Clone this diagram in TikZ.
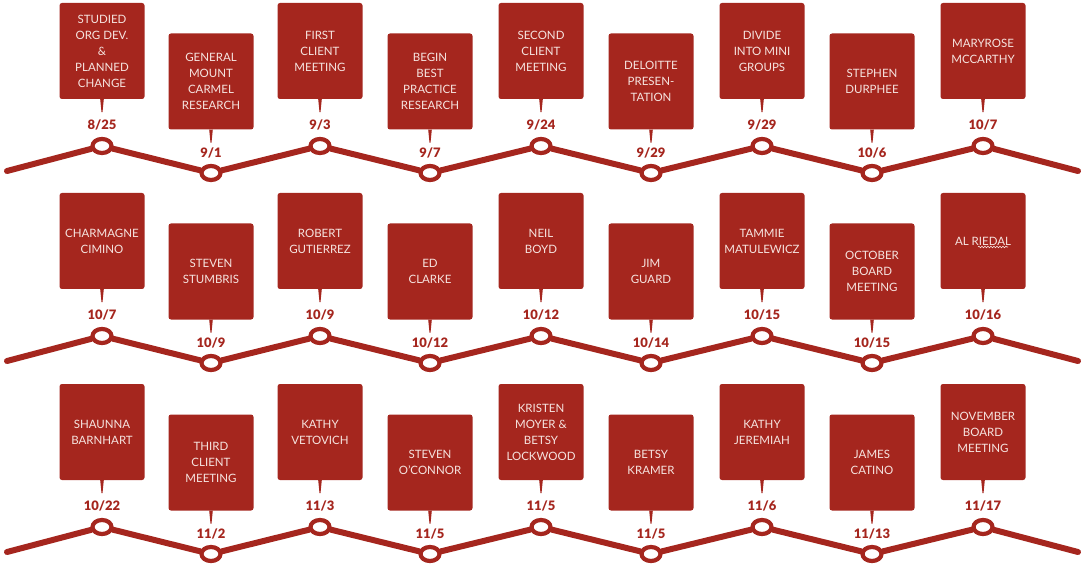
\documentclass[tikz,border=0pt]{standalone}
\usepackage{fontspec}
\setmainfont{Lato}[BoldFont={Lato Black}]
\usepackage{tikz}
\usetikzlibrary{shapes.geometric,decorations.pathmorphing}
\definecolor{tlred}{RGB}{165,38,30}
\definecolor{tltext}{RGB}{246,228,224}
\tikzset{
  evbox/.style={rectangle, fill=tlred, text=tltext, rounded corners=2.5pt,
    minimum width=85pt, minimum height=96pt, inner sep=0pt, align=center,
    font=\fontsize{11.5}{16}\selectfont},
  evdate/.style={text=tlred, font=\fontsize{13}{13}\selectfont\bfseries},
  evdot/.style={ellipse, draw=tlred, fill=white, line width=4.2pt,
    minimum width=19pt, minimum height=14pt, inner sep=0pt},
  evline/.style={draw=tlred, line width=6pt, line cap=round}
}

\begin{document}
\begin{tikzpicture}[x=1pt,y=-1pt]
      \useasboundingbox (0,0) rectangle (1084,569);

      \node[evbox] (ev1) at (102,51) {STUDIED\\ORG DEV.\\\&\\PLANNED\\CHANGE};
      \node[evbox] (ev2) at (211,81.5) {GENERAL\\MOUNT\\CARMEL\\RESEARCH};
      \node[evbox] (ev3) at (320,51) {FIRST\\CLIENT\\MEETING};
      \node[evbox] (ev4) at (430,81.5) {BEGIN\\BEST\\PRACTICE\\RESEARCH};
      \node[evbox] (ev5) at (541,51) {SECOND\\CLIENT\\MEETING};
      \node[evbox] (ev6) at (651,81.5) {DELOITTE\\PRESEN-\\TATION};
      \node[evbox] (ev7) at (762,51) {DIVIDE\\INTO MINI\\GROUPS};
      \node[evbox] (ev8) at (872,81.5) {STEPHEN\\DURPHEE};
      \node[evbox] (ev9) at (983,51) {MARYROSE\\MCCARTHY};

      \node[evdate] (dt1) at (102,125) {8/25};
      \node[evdate] (dt2) at (211,153) {9/1};
      \node[evdate] (dt3) at (320,125) {9/3};
      \node[evdate] (dt4) at (430,153) {9/7};
      \node[evdate] (dt5) at (541,125) {9/24};
      \node[evdate] (dt6) at (651,153) {9/29};
      \node[evdate] (dt7) at (762,125) {9/29};
      \node[evdate] (dt8) at (872,153) {10/6};
      \node[evdate] (dt9) at (983,125) {10/7};

      \node[evdot] (dot1) at (102,146) {};
      \node[evdot] (dot2) at (211,173) {};
      \node[evdot] (dot3) at (320,146) {};
      \node[evdot] (dot4) at (430,173) {};
      \node[evdot] (dot5) at (541,146) {};
      \node[evdot] (dot6) at (651,173) {};
      \node[evdot] (dot7) at (762,146) {};
      \node[evdot] (dot8) at (872,173) {};
      \node[evdot] (dot9) at (983,146) {};
      \coordinate (ln1s) at (7,171);
      \coordinate (ln1e) at (1078,171);
      \draw[evline] (ln1s) -- (dot1) -- (dot2) -- (dot3) -- (dot4) -- (dot5)
        -- (dot6) -- (dot7) -- (dot8) -- (dot9) -- (ln1e);

      \node[evbox] (ev10) at (102,241) {CHARMAGNE\\CIMINO};
      \node[evbox] (ev11) at (211,271.5) {STEVEN\\STUMBRIS};
      \node[evbox] (ev12) at (320,241) {ROBERT\\GUTIERREZ};
      \node[evbox] (ev13) at (430,271.5) {ED\\CLARKE};
      \node[evbox] (ev14) at (541,241) {NEIL\\BOYD};
      \node[evbox] (ev15) at (651,271.5) {JIM\\GUARD};
      \node[evbox] (ev16) at (762,241) {TAMMIE\\MATULEWICZ};
      \node[evbox] (ev17) at (872,271.5) {OCTOBER\\BOARD\\MEETING};
      \node[evbox] (ev18) at (983,241) {AL RIEDAL};
      \draw[tltext, line width=0.6pt, decorate,
        decoration={snake, segment length=3pt, amplitude=0.8pt}]
        ([xshift=-5pt,yshift=-6pt]ev18.center) -- ([xshift=25pt,yshift=-6pt]ev18.center);

      \node[evdate] (dt10) at (102,315) {10/7};
      \node[evdate] (dt11) at (211,343) {10/9};
      \node[evdate] (dt12) at (320,315) {10/9};
      \node[evdate] (dt13) at (430,343) {10/12};
      \node[evdate] (dt14) at (541,315) {10/12};
      \node[evdate] (dt15) at (651,343) {10/14};
      \node[evdate] (dt16) at (762,315) {10/15};
      \node[evdate] (dt17) at (872,343) {10/15};
      \node[evdate] (dt18) at (983,315) {10/16};

      \node[evdot] (dot10) at (102,336) {};
      \node[evdot] (dot11) at (211,363) {};
      \node[evdot] (dot12) at (320,336) {};
      \node[evdot] (dot13) at (430,363) {};
      \node[evdot] (dot14) at (541,336) {};
      \node[evdot] (dot15) at (651,363) {};
      \node[evdot] (dot16) at (762,336) {};
      \node[evdot] (dot17) at (872,363) {};
      \node[evdot] (dot18) at (983,336) {};
      \coordinate (ln2s) at (7,361);
      \coordinate (ln2e) at (1078,361);
      \draw[evline] (ln2s) -- (dot10) -- (dot11) -- (dot12) -- (dot13) -- (dot14)
        -- (dot15) -- (dot16) -- (dot17) -- (dot18) -- (ln2e);

      \node[evbox] (ev19) at (102,432) {SHAUNNA\\BARNHART};
      \node[evbox] (ev20) at (211,462.5) {THIRD\\CLIENT\\MEETING};
      \node[evbox] (ev21) at (320,432) {KATHY\\VETOVICH};
      \node[evbox] (ev22) at (430,462.5) {STEVEN\\O'CONNOR};
      \node[evbox] (ev23) at (541,432) {KRISTEN\\MOYER \&\\BETSY\\LOCKWOOD};
      \node[evbox] (ev24) at (651,462.5) {BETSY\\KRAMER};
      \node[evbox] (ev25) at (762,432) {KATHY\\JEREMIAH};
      \node[evbox] (ev26) at (872,462.5) {JAMES\\CATINO};
      \node[evbox] (ev27) at (983,432) {NOVEMBER\\BOARD\\MEETING};

      \node[evdate] (dt19) at (102,506) {10/22};
      \node[evdate] (dt20) at (211,534) {11/2};
      \node[evdate] (dt21) at (320,506) {11/3};
      \node[evdate] (dt22) at (430,534) {11/5};
      \node[evdate] (dt23) at (541,506) {11/5};
      \node[evdate] (dt24) at (651,534) {11/5};
      \node[evdate] (dt25) at (762,506) {11/6};
      \node[evdate] (dt26) at (872,534) {11/13};
      \node[evdate] (dt27) at (983,506) {11/17};

      \node[evdot] (dot19) at (102,527) {};
      \node[evdot] (dot20) at (211,554) {};
      \node[evdot] (dot21) at (320,527) {};
      \node[evdot] (dot22) at (430,554) {};
      \node[evdot] (dot23) at (541,527) {};
      \node[evdot] (dot24) at (651,554) {};
      \node[evdot] (dot25) at (762,527) {};
      \node[evdot] (dot26) at (872,554) {};
      \node[evdot] (dot27) at (983,527) {};
      \coordinate (ln3s) at (7,552);
      \coordinate (ln3e) at (1078,552);
      \draw[evline] (ln3s) -- (dot19) -- (dot20) -- (dot21) -- (dot22) -- (dot23)
        -- (dot24) -- (dot25) -- (dot26) -- (dot27) -- (ln3e);

      \foreach \n in {1,...,27}
        \fill[tlred] ([xshift=-1.8pt]ev\n.south) -- ([xshift=1.8pt]ev\n.south)
          -- ([xshift=0.5pt,yshift=-13pt]ev\n.south) -- ([xshift=-0.5pt,yshift=-13pt]ev\n.south) -- cycle;
\end{tikzpicture}
\end{document}
